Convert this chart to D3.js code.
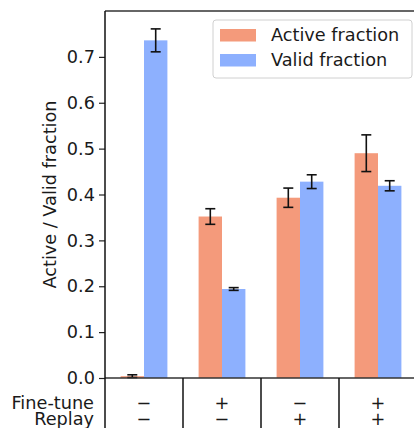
<!DOCTYPE html>
<html>
<head>
<meta charset="utf-8">
<script src="https://cdn.jsdelivr.net/npm/d3@7"></script>
<style>
  html, body { margin: 0; padding: 0; background: #fff; }
  svg { display: block; font-family: 'DejaVu Sans', sans-serif; }
</style>
</head>
<body>
<div id="chart"></div>
<script>
// conditions (Fine-tune / Replay sign per group)
const groups = ["g0", "g1", "g2", "g3"];
const fineTune = ["\u2212", "+", "\u2212", "+"];
const replay = ["\u2212", "\u2212", "+", "+"];

const series = ["Active fraction", "Valid fraction"];
const activeVals = [0.004, 0.352, 0.393, 0.490];
const activeErr = [0.003, 0.017, 0.021, 0.040];
const validVals = [0.736, 0.194, 0.428, 0.419];
const validErr = [0.025, 0.003, 0.015, 0.011];
const yTicks = [0, 0.1, 0.2, 0.3, 0.4, 0.5, 0.6, 0.7];

const colors = ["#f49a7b", "#8db0fe"];

const W = 414, H = 428;
const margin = { left: 105, top: 11, right: -3, bottom: 50 };
const fs = 17.7;

const svg = d3.select("#chart").append("svg")
  .attr("width", W).attr("height", H);

const x = d3.scaleBand().domain(groups).range([margin.left, W - margin.right]).padding(0);
const xs = d3.scaleBand().domain(series)
  .range([x.bandwidth() * 0.2, x.bandwidth() * 0.8]).padding(0);
const y = d3.scaleLinear().domain([0, 0.8]).range([H - margin.bottom, margin.top]);

const rows = groups.map((g, i) => [
  { g, s: series[0], v: activeVals[i], e: activeErr[i], c: colors[0] },
  { g, s: series[1], v: validVals[i], e: validErr[i], c: colors[1] }
]).flat();

// bars
svg.append("g").selectAll("rect")
  .data(rows)
  .join("rect")
  .attr("x", d => x(d.g) + xs(d.s))
  .attr("width", xs.bandwidth())
  .attr("y", d => y(d.v))
  .attr("height", d => y(0) - y(d.v))
  .attr("fill", d => d.c);

// error bars
const eb = svg.append("g").attr("stroke", "#111").attr("stroke-width", 1.6);
rows.forEach(d => {
  const cx = x(d.g) + xs(d.s) + xs.bandwidth() / 2;
  eb.append("line").attr("x1", cx).attr("x2", cx).attr("y1", y(d.v - d.e)).attr("y2", y(d.v + d.e));
  [d.v - d.e, d.v + d.e].forEach(v => {
    eb.append("line").attr("x1", cx - 5).attr("x2", cx + 5).attr("y1", y(v)).attr("y2", y(v));
  });
});

// y axis
const yAxis = svg.append("g")
  .attr("transform", `translate(${margin.left},0)`)
  .call(d3.axisLeft(y).tickValues(yTicks).tickFormat(d3.format(".1f")).tickSize(6).tickPadding(4));
yAxis.select(".domain").remove();
yAxis.selectAll(".tick line").attr("stroke", "#222").attr("stroke-width", 1.2);
yAxis.selectAll(".tick text").attr("font-size", fs).attr("fill", "#1a1a1a")
  .attr("font-family", "'DejaVu Sans', sans-serif");

// spines
const spine = svg.append("g").attr("stroke", "#333").attr("stroke-width", 1.3).attr("fill", "none");
spine.append("line").attr("x1", margin.left).attr("x2", W).attr("y1", y(0.8)).attr("y2", y(0.8));
spine.append("line").attr("x1", margin.left).attr("x2", W).attr("y1", y(0)).attr("y2", y(0));

// table dividers below the axis
svg.append("g").attr("stroke", "#111").attr("stroke-width", 1.5)
  .selectAll("line")
  .data(groups)
  .join("line")
  .attr("x1", d => x(d)).attr("x2", d => x(d))
  .attr("y1", (d, i) => i === 0 ? y(0.8) : y(0))
  .attr("y2", H);

// table: two-line labels (like matplotlib "a\nb" tick labels)
const row1 = 409, lineGap = 16;
const rowLabel = svg.append("text")
  .attr("y", row1).attr("text-anchor", "end")
  .attr("font-size", fs).attr("fill", "#1a1a1a");
rowLabel.append("tspan").attr("x", 94).text("Fine-tune");
rowLabel.append("tspan").attr("x", 94).attr("dy", lineGap).text("Replay");

const signs = svg.append("g").selectAll("text")
  .data(groups)
  .join("text")
  .attr("y", row1)
  .attr("text-anchor", "middle").attr("font-size", fs).attr("fill", "#1a1a1a");
signs.append("tspan").attr("x", d => x(d) + x.bandwidth() / 2).text((d, i) => fineTune[i]);
signs.append("tspan").attr("x", d => x(d) + x.bandwidth() / 2).attr("dy", lineGap).text((d, i) => replay[i]);

// y label
svg.append("text")
  .attr("transform", `translate(56,${(y(0) + y(0.8)) / 2}) rotate(-90)`)
  .attr("text-anchor", "middle").attr("font-size", fs).attr("fill", "#1a1a1a")
  .text("Active / Valid fraction");

// legend
const lg = svg.append("g").attr("transform", "translate(213,20)");
lg.append("rect")
  .attr("width", 199).attr("height", 58).attr("rx", 3)
  .attr("fill", "#fff").attr("fill-opacity", 0.8)
  .attr("stroke", "#d0d0d0").attr("stroke-width", 1);
series.forEach((s, i) => {
  lg.append("rect").attr("x", 7).attr("y", 9 + i * 25).attr("width", 36).attr("height", 12.5)
    .attr("fill", colors[i]);
  lg.append("text").attr("x", 58).attr("y", 21 + i * 25)
    .attr("font-size", fs).attr("fill", "#1a1a1a").text(s);
});
</script>
</body>
</html>
